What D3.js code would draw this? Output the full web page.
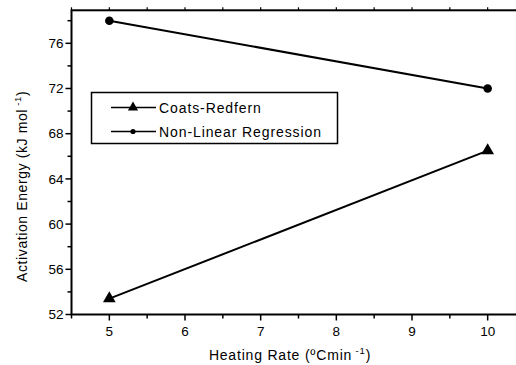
<!DOCTYPE html>
<html><head><meta charset="utf-8">
<script src="https://cdn.jsdelivr.net/npm/d3@7"></script>
<style>body{margin:0;background:#fff}svg{display:block}text{font-family:"Liberation Sans",Arial,sans-serif;fill:#000}</style>
</head><body><svg id="c" width="516" height="365"></svg>
<script>
const heatingRates = [5, 10];
const coatsRedfern = [53.4, 66.5];
const nonLinear = [78.0, 72.0];
const xTicks = [5, 6, 7, 8, 9, 10];
const yTicks = [52, 56, 60, 64, 68, 72, 76];
const seriesNames = ["Coats-Redfern", "Non-Linear Regression"];

const svg = d3.select("#c");
const L = 71.5, R = 525.5, T = 10.3, B = 314.5;
const x = d3.scaleLinear().domain([4.5, 10.5]).range([L, R]);
const y = d3.scaleLinear().domain([52, 78.92]).range([B, T]);

// frame
svg.append("rect").attr("x", L).attr("y", T).attr("width", R - L).attr("height", B - T)
  .attr("fill", "none").attr("stroke", "#000").attr("stroke-width", 2);

// bottom axis
const minorX = d3.range(4.5, 10.51, 0.5);
const gb = svg.append("g").attr("transform", `translate(0,${B})`);
gb.selectAll("line.mn").data(minorX).join("line")
  .attr("x1", d => x(d)).attr("x2", d => x(d)).attr("y1", 0)
  .attr("y2", d => Number.isInteger(d) ? 6 : 4).attr("stroke", "#000").attr("stroke-width", 1.5);
gb.selectAll("text").data(xTicks).join("text")
  .attr("x", d => x(d)).attr("y", 21).attr("text-anchor", "middle").attr("font-size", 13.5).text(d => d);
// top axis ticks
const gt = svg.append("g").attr("transform", `translate(0,${T})`);
gt.selectAll("line").data(minorX).join("line")
  .attr("x1", d => x(d)).attr("x2", d => x(d)).attr("y1", 0).attr("y2", -3)
  .attr("stroke", "#000").attr("stroke-width", 1.2);

// left axis
const minorY = d3.range(52, 78.01, 2);
const gl = svg.append("g").attr("transform", `translate(${L},0)`);
gl.selectAll("line").data(minorY).join("line")
  .attr("y1", d => y(d)).attr("y2", d => y(d)).attr("x1", 0)
  .attr("x2", d => d % 4 === 0 ? -6 : -4).attr("stroke", "#000").attr("stroke-width", 1.5);
gl.selectAll("text").data(yTicks).join("text")
  .attr("x", -8).attr("y", d => y(d)).attr("dy", "0.35em").attr("text-anchor", "end")
  .attr("font-size", 13.5).text(d => d);

// axis titles
const xt = svg.append("text").attr("x", 290).attr("y", 360).attr("text-anchor", "middle")
  .attr("font-size", 14).attr("letter-spacing", 0.8);
xt.append("tspan").text("Heating Rate (ºCmin");
xt.append("tspan").attr("font-size", 9.5).attr("dy", -6).text(" -1");
xt.append("tspan").attr("dy", 6).text(")");

const yt = svg.append("text").attr("transform", `translate(27,${(T + B) / 2 + 24}) rotate(-90)`)
  .attr("text-anchor", "middle").attr("font-size", 14).attr("letter-spacing", 0.6);
yt.append("tspan").text("Activation Energy (kJ mol");
yt.append("tspan").attr("font-size", 9.5).attr("dy", -6).text(" -1");
yt.append("tspan").attr("dy", 6).text(")");

// lines
const line = d3.line().x((d, i) => x(heatingRates[i])).y(d => y(d));
[coatsRedfern, nonLinear].forEach(s => {
  svg.append("path").attr("d", line(s)).attr("fill", "none").attr("stroke", "#000").attr("stroke-width", 2);
});
const tri = d3.symbol().type(d3.symbolTriangle).size(70);
svg.selectAll("path.tri").data(coatsRedfern).join("path").attr("class", "tri")
  .attr("transform", (d, i) => `translate(${x(heatingRates[i])},${y(d)})`).attr("d", tri()).attr("fill", "#000");
svg.selectAll("circle.pt").data(nonLinear).join("circle").attr("class", "pt")
  .attr("cx", (d, i) => x(heatingRates[i])).attr("cy", d => y(d)).attr("r", 4.3).attr("fill", "#000");

// legend
const lg = svg.append("g");
lg.append("rect").attr("x", 91.5).attr("y", 92.5).attr("width", 246).attr("height", 51)
  .attr("fill", "#fff").attr("stroke", "#000").attr("stroke-width", 1.5);
const rows = [107.5, 131.5];
seriesNames.forEach((n, i) => {
  lg.append("line").attr("x1", 111).attr("x2", 156).attr("y1", rows[i]).attr("y2", rows[i])
    .attr("stroke", "#000").attr("stroke-width", 1.5);
  if (i === 0) lg.append("path").attr("transform", `translate(133,${rows[i]})`)
    .attr("d", d3.symbol().type(d3.symbolTriangle).size(45)()).attr("fill", "#000");
  else lg.append("circle").attr("cx", 133).attr("cy", rows[i]).attr("r", 2.6).attr("fill", "#000");
  lg.append("text").attr("x", 159).attr("y", rows[i]).attr("dy", "0.36em").attr("font-size", 14)
    .attr("letter-spacing", 0.9).text(n);
});
</script></body></html>
